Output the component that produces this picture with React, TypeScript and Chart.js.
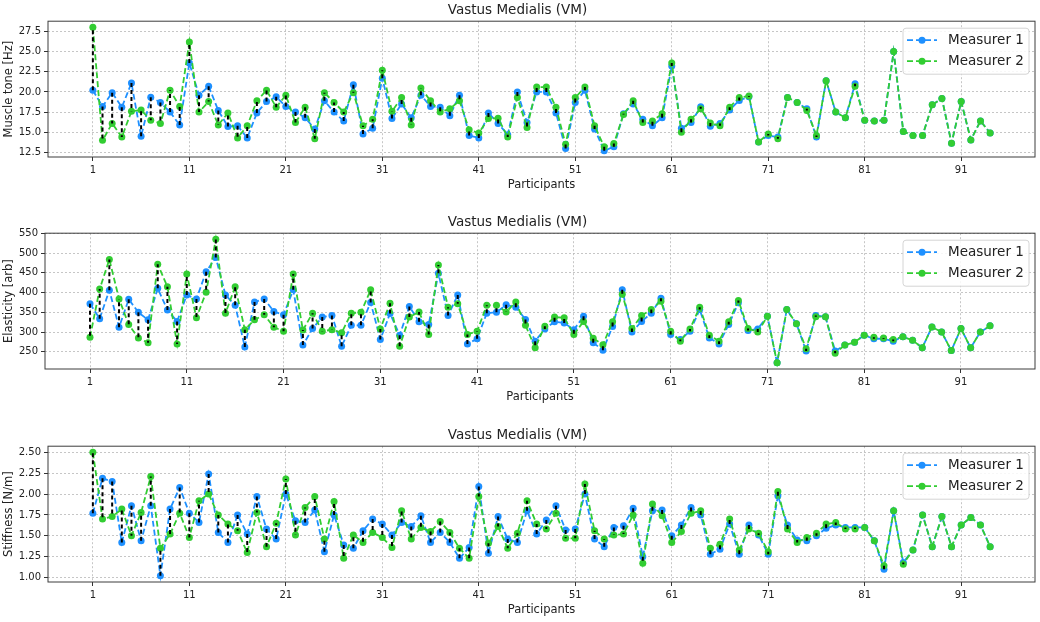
import { useEffect, useRef } from 'react';
import { Chart, registerables } from 'chart.js';

Chart.register(...registerables);
Chart.defaults.font.family = '"DejaVu Sans", sans-serif';

const participants = Array.from({ length: 94 }, (_, i) => i + 1);
const xTicks = [1, 11, 21, 31, 41, 51, 61, 71, 81, 91];

const seriesNames = ['Measurer 1', 'Measurer 2'];
const seriesColors = ['#1e90ff', '#32cd32'];
const panelTitle = 'Vastus Medialis (VM)';

// muscle tone [Hz]
const toneM1 = [
  20.2, 18.2, 19.9, 18.1, 21.1, 14.5, 19.35, 18.7, 17.5, 15.9,
  23.6, 19.6, 20.7, 17.7, 15.7, 15.8, 14.3, 17.4, 18.8, 19.4,
  18.2, 17.5, 16.8, 15.4, 18.9, 17.5, 16.4, 20.9, 14.8, 15.5,
  21.7, 16.7, 18.5, 16.8, 19.6, 18.2, 18.1, 17.05, 19.6, 14.6,
  14.3, 17.4, 16.1, 14.7, 20.0, 16.2, 20.0, 20.0, 17.4, 13.0,
  18.7, 20.2, 15.4, 12.7, 13.2, 17.3, 18.5, 16.6, 15.8, 16.8,
  23.2, 15.5, 16.2, 18.15, 15.75, 16.1, 17.75, 18.95, 19.4, 13.8,
  14.6, 14.4, 19.3, 18.7, 17.9, 14.4, 21.4, 17.5, 16.8, 21.0,
  16.5, 16.4, 16.5, 25.0, 15.1, 14.6, 14.6, 18.4, 19.2, 13.65,
  18.8, 14.05, 16.4, 14.9,
];
const toneM2 = [
  28.0, 14.0, 16.1, 14.4, 17.6, 17.75, 16.5, 16.1, 20.2, 18.2,
  26.2, 17.5, 18.8, 15.9, 17.4, 14.3, 15.8, 18.9, 20.2, 18.1,
  19.6, 16.2, 18.1, 14.2, 19.9, 18.7, 17.5, 19.9, 15.8, 16.6,
  22.7, 17.6, 19.3, 15.9, 20.5, 18.9, 17.5, 17.9, 18.9, 15.3,
  14.9, 16.7, 16.75, 14.4, 19.3, 15.6, 20.6, 20.6, 18.1, 13.5,
  19.3, 20.6, 15.8, 13.2, 13.6, 17.2, 18.9, 16.2, 16.4, 17.3,
  23.6, 15.0, 16.6, 17.9, 16.15, 15.8, 18.1, 19.3, 19.5, 13.8,
  14.8, 14.2, 19.3, 18.7, 17.7, 14.6, 21.4, 17.5, 16.8, 20.7,
  16.5, 16.4, 16.5, 25.0, 15.1, 14.6, 14.6, 18.4, 19.2, 13.65,
  18.8, 14.05, 16.4, 14.9,
];
const toneTicks = [12.5, 15, 17.5, 20, 22.5, 25, 27.5];

// elasticity [arb]
const elastM1 = [
  372, 334, 406, 312, 383, 350, 331, 411, 356, 327,
  394, 384, 453, 489, 394, 368, 262, 376, 384, 352,
  344, 407, 267, 309, 338, 342, 264, 317, 317, 375,
  281, 347, 292, 365, 326, 319, 449, 342, 394, 270,
  283, 348, 350, 369, 363, 332, 277, 308, 326, 323,
  306, 340, 273, 254, 314, 407, 300, 327, 348, 386,
  294, 281, 302, 357, 285, 270, 319, 374, 304, 308,
  340, 222, 357, 321, 252, 342, 339, 252, 267, 274,
  292, 283, 283, 277, 288, 279, 260, 313, 300, 253,
  309, 260, 300, 316,
];
const elastM2 = [
  287, 409, 484, 384, 319, 285, 273, 472, 415, 270,
  447, 336, 401, 535, 348, 415, 306, 331, 344, 312,
  302, 447, 305, 348, 302, 306, 298, 348, 350, 407,
  308, 373, 264, 338, 351, 294, 470, 363, 372, 294,
  302, 368, 368, 351, 376, 317, 260, 315, 338, 336,
  294, 327, 284, 268, 326, 396, 309, 342, 357, 378,
  302, 277, 308, 363, 292, 277, 326, 380, 309, 300,
  340, 222, 357, 321, 258, 339, 339, 246, 267, 274,
  292, 287, 285, 281, 288, 279, 260, 313, 300, 253,
  309, 260, 300, 316,
];
const elastTicks = [250, 300, 350, 400, 450, 500, 550];

// stiffness [N/m]
const stiffM1 = [
  1.77, 2.19, 2.15, 1.42, 1.86, 1.44, 1.86, 1.02, 1.82, 2.08,
  1.77, 1.66, 2.24, 1.54, 1.42, 1.75, 1.52, 1.97, 1.58, 1.46,
  2.0, 1.68, 1.66, 1.81, 1.31, 1.75, 1.39, 1.35, 1.56, 1.7,
  1.64, 1.51, 1.66, 1.61, 1.74, 1.42, 1.54, 1.42, 1.23, 1.36,
  2.09, 1.29, 1.73, 1.46, 1.42, 1.8, 1.52, 1.69, 1.86, 1.57,
  1.58, 2.0, 1.46, 1.37, 1.6, 1.62, 1.83, 1.25, 1.8, 1.81,
  1.5, 1.63, 1.84, 1.75, 1.28, 1.34, 1.64, 1.28, 1.63, 1.51,
  1.28, 1.98, 1.63, 1.45, 1.44, 1.5, 1.59, 1.63, 1.6, 1.6,
  1.6, 1.44, 1.1, 1.8, 1.18, 1.33, 1.75, 1.37, 1.73, 1.37,
  1.63, 1.72, 1.63, 1.37,
];
const stiffM2 = [
  2.5, 1.7, 1.73, 1.82, 1.5, 1.78, 2.21, 1.35, 1.52, 1.77,
  1.48, 1.92, 2.0, 1.75, 1.64, 1.56, 1.3, 1.78, 1.37, 1.65,
  2.18, 1.51, 1.84, 1.97, 1.46, 1.91, 1.23, 1.51, 1.42, 1.54,
  1.48, 1.36, 1.8, 1.46, 1.6, 1.55, 1.67, 1.54, 1.35, 1.23,
  1.97, 1.41, 1.61, 1.35, 1.53, 1.92, 1.64, 1.58, 1.77, 1.47,
  1.47, 2.12, 1.56, 1.46, 1.51, 1.52, 1.75, 1.17, 1.88, 1.74,
  1.42, 1.55, 1.77, 1.8, 1.35, 1.4, 1.7, 1.33, 1.58, 1.53,
  1.31, 2.03, 1.58, 1.42, 1.48, 1.53, 1.64, 1.66, 1.58, 1.58,
  1.6, 1.44, 1.14, 1.8, 1.16, 1.33, 1.75, 1.37, 1.73, 1.37,
  1.63, 1.72, 1.63, 1.37,
];
const stiffTicks = [1, 1.25, 1.5, 1.75, 2, 2.25, 2.5];

type PanelProps = {
  top: number;
  m1: number[];
  m2: number[];
  ticks: number[];
  decimals: number;
  yLabel: string;
  yWidth: number;
};

function Panel({ top, m1, m2, ticks, decimals, yLabel, yWidth }: PanelProps) {
  const ref = useRef<HTMLCanvasElement | null>(null);

  useEffect(() => {
    if (!ref.current) return;
    const all = [...m1, ...m2];
    const lo = Math.min(...all);
    const hi = Math.max(...all);
    const pad = (hi - lo) * 0.05;
    const first = participants[0];
    const last = participants[participants.length - 1];
    const xPad = (last - first) * 0.05;

    const pts = (ys: number[]) => participants.map((p, i) => ({ x: p, y: ys[i] }));
    // vertical connectors between the two measurers, broken by nulls
    const links = participants.flatMap((p, i) => [
      { x: p, y: m1[i] },
      { x: p, y: m2[i] },
      { x: p, y: null },
    ]);

    const frame = {
      id: 'frame',
      afterDraw(chart: any) {
        const { ctx, chartArea: a } = chart;
        ctx.save();
        ctx.strokeStyle = '#3c3c3c';
        ctx.lineWidth = 1;
        ctx.strokeRect(a.left, a.top, a.right - a.left, a.bottom - a.top);
        ctx.restore();
      },
    };

    const legendBox = {
      id: 'legendBox',
      afterDraw(chart: any) {
        const { ctx, chartArea: a } = chart;
        const w = 126;
        const h = 46;
        const x0 = a.right - 6 - w;
        const y0 = a.top + 7;
        ctx.save();
        ctx.beginPath();
        ctx.roundRect(x0, y0, w, h, 3);
        ctx.fillStyle = 'rgba(255,255,255,0.85)';
        ctx.fill();
        ctx.strokeStyle = '#d4d4d4';
        ctx.lineWidth = 1;
        ctx.stroke();
        seriesNames.forEach((name, k) => {
          const cy = y0 + 12 + k * 21;
          ctx.strokeStyle = seriesColors[k];
          ctx.lineWidth = 1.8;
          ctx.setLineDash([6, 3]);
          ctx.beginPath();
          ctx.moveTo(x0 + 4, cy);
          ctx.lineTo(x0 + 34, cy);
          ctx.stroke();
          ctx.setLineDash([]);
          ctx.fillStyle = seriesColors[k];
          ctx.beginPath();
          ctx.arc(x0 + 19, cy, 3.5, 0, Math.PI * 2);
          ctx.fill();
          ctx.fillStyle = '#222';
          ctx.font = '13.5px "DejaVu Sans", sans-serif';
          ctx.textBaseline = 'middle';
          ctx.textAlign = 'left';
          ctx.fillText(name, x0 + 45, cy);
        });
        ctx.restore();
      },
    };

    const chart = new Chart(ref.current, {
      type: 'line',
      data: {
        datasets: [
          {
            label: 'links',
            data: links as any,
            borderColor: '#000000',
            borderWidth: 2,
            borderDash: [4, 3],
            pointRadius: 0,
            spanGaps: false,
            order: 0,
          },
          {
            label: seriesNames[1],
            data: pts(m2),
            borderColor: seriesColors[1],
            backgroundColor: seriesColors[1],
            borderWidth: 1.8,
            borderDash: [6, 3],
            pointRadius: 3.5,
            pointBorderWidth: 0,
            order: 1,
          },
          {
            label: seriesNames[0],
            data: pts(m1),
            borderColor: seriesColors[0],
            backgroundColor: seriesColors[0],
            borderWidth: 1.8,
            borderDash: [6, 3],
            pointRadius: 3.5,
            pointBorderWidth: 0,
            order: 2,
          },
        ],
      },
      options: {
        responsive: true,
        maintainAspectRatio: false,
        animation: false,
        layout: { padding: { left: 0, right: 5, top: 0, bottom: 0 } },
        plugins: {
          legend: { display: false },
          tooltip: { enabled: false },
          title: {
            display: true,
            text: panelTitle,
            color: '#222',
            font: { size: 13.5, weight: 'normal' },
            padding: { top: 2, bottom: 3 },
          },
        },
        scales: {
          x: {
            type: 'linear',
            min: first - xPad,
            max: last + xPad,
            afterBuildTicks: (s: any) => {
              s.ticks = xTicks.map((v) => ({ value: v }));
            },
            afterFit: (s: any) => {
              s.height = 43;
            },
            ticks: { autoSkip: false, maxRotation: 0, color: '#222', font: { size: 10 }, padding: 3 },
            grid: { color: '#b8b8b8', lineWidth: 0.8, tickLength: 4, tickColor: '#333', tickWidth: 1 },
            border: { display: false, dash: [2, 2] },
            title: {
              display: true,
              text: 'Participants',
              color: '#222',
              font: { size: 11.5 },
              padding: { top: 0, bottom: 8 },
            },
          },
          y: {
            min: lo - pad,
            max: hi + pad,
            afterBuildTicks: (s: any) => {
              s.ticks = ticks.map((v) => ({ value: v }));
            },
            afterFit: (s: any) => {
              s.width = yWidth;
            },
            ticks: {
              autoSkip: false,
              color: '#222',
              font: { size: 10 },
              padding: 3,
              callback: (v: any) => Number(v).toFixed(decimals),
            },
            grid: { color: '#b8b8b8', lineWidth: 0.8, tickLength: 4, tickColor: '#333', tickWidth: 1 },
            border: { display: false, dash: [2, 2] },
            title: {
              display: true,
              text: yLabel,
              color: '#222',
              font: { size: 11.5 },
              padding: { top: 2, bottom: 0 },
            },
          },
        },
      },
      plugins: [frame, legendBox],
    });
    return () => chart.destroy();
  }, [m1, m2, ticks, decimals, yLabel, yWidth]);

  return (
    <div style={{ position: 'absolute', left: 0, top, width: 1040, height: 200 }}>
      <canvas ref={ref} />
    </div>
  );
}

export default function App() {
  return (
    <div style={{ position: 'absolute', left: 0, top: 0, width: 1040, height: 622, overflow: 'hidden', background: '#fff' }}>
      <Panel top={0} m1={toneM1} m2={toneM2} ticks={toneTicks} decimals={1} yLabel="Muscle tone [Hz]" yWidth={48} />
      <Panel top={212} m1={elastM1} m2={elastM2} ticks={elastTicks} decimals={0} yLabel="Elasticity [arb]" yWidth={45} />
      <Panel top={425} m1={stiffM1} m2={stiffM2} ticks={stiffTicks} decimals={2} yLabel="Stiffness [N/m]" yWidth={48} />
    </div>
  );
}
